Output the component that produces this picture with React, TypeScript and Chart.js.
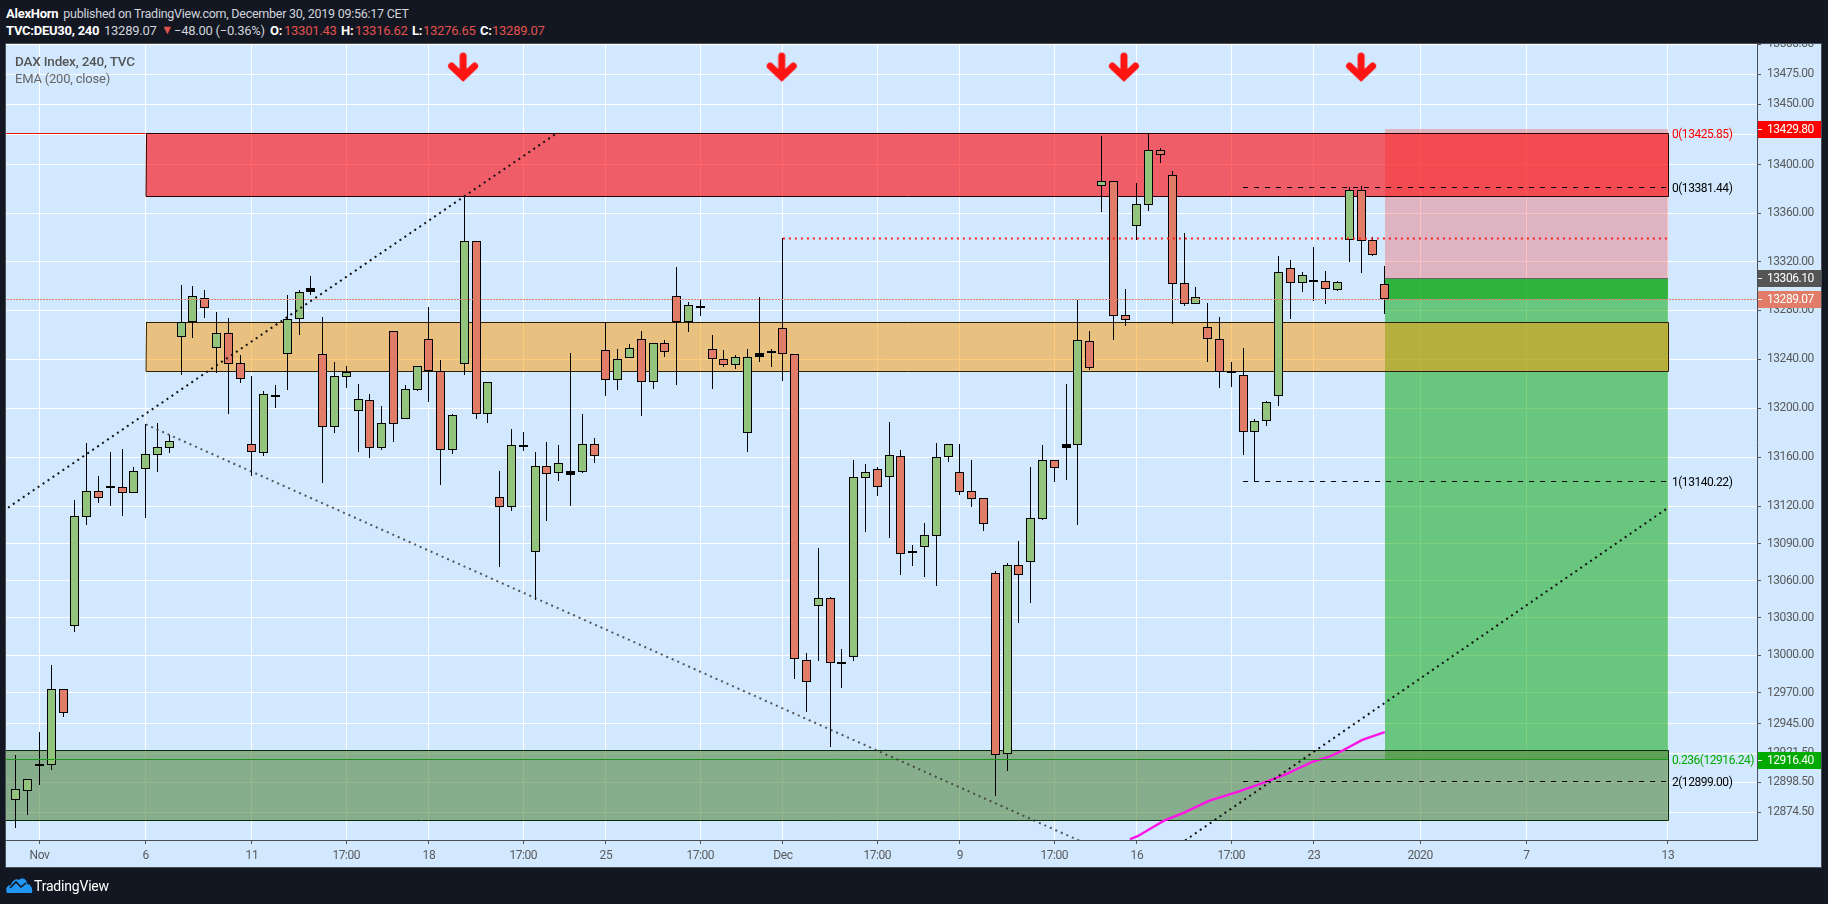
import React, { useEffect, useRef } from "react";
import Chart from "chart.js/auto";

const opens = [12884.5,12891.7,12912.2,12912.4,12972.7,13023.2,13111.7,13132.3,13136.8,13135.5,13131.2,13150.7,13162,13167.7,13258.4,13270.2,13290.3,13248.9,13261.2,13236.6,13170.4,13163.1,13210.6,13244,13272.6,13294.7,13244,13184.8,13225.6,13197.8,13206.3,13167.7,13262.9,13191.3,13215.1,13256.3,13230,13166,13235.8,13336.7,13194.9,13127.5,13119.4,13169.3,13082.8,13152.6,13146.9,13148.6,13148.3,13170.4,13247.3,13222.7,13240.7,13256.3,13221,13253,13291.4,13270.2,13283.6,13248.1,13239.9,13235,13179.4,13244.8,13246.6,13265.2,13244,12995.9,13039.8,13045.8,12994.2,12998.8,13143.4,13150.2,13144.2,13160.7,13084.2,13087.4,13096.3,13159.9,13147.7,13132.3,13126.7,13065.9,12921.2,13072.4,13075.3,13110.1,13157.5,13170.4,13170.1,13254.6,13382.5,13386.2,13275.9,13349.5,13366.8,13411.9,13391.2,13302.1,13285.4,13266.1,13256.3,13230,13226.8,13180.7,13189.6,13210,13314.5,13302.7,13304.5,13303.8,13296.9,13338,13378.8,13337.5,13301.43];
const highs = [12920.1,12900.8,12938.5,12992.2,12972.7,13125.3,13171.3,13144.7,13163.9,13166.6,13151.8,13186.7,13187.8,13178,13300.7,13299.9,13296.6,13278.3,13273.4,13243.4,13226.2,13213.9,13218.8,13292.5,13296.6,13308.1,13274.2,13237.7,13234.4,13219.6,13211.4,13201.6,13262.9,13219,13234.1,13282.7,13239.3,13195,13373.2,13336.7,13221,13148.5,13182.6,13180.5,13163.9,13172.3,13169.9,13245,13195,13175.3,13270.2,13248.1,13252.3,13262.9,13253,13255.5,13315.5,13286.8,13289.2,13259.8,13247.5,13243.4,13248.3,13290.9,13248.3,13339.1,13244,13001.8,13086.3,13046.8,13005,13157.7,13154.5,13152,13188.6,13165.8,13088.8,13106.6,13171.5,13170.4,13170.7,13157.7,13126.7,13067.5,13074,13092,13152,13169.9,13157.5,13219.6,13288.4,13262.8,13423.8,13386.2,13297.4,13384.8,13426,13413.8,13394.7,13343.6,13299.1,13285.9,13274.5,13237.7,13249.1,13191,13205.7,13324.6,13321.3,13311.4,13332,13312.2,13304,13381.4,13382,13340.2,13316.62];
const lows = [12862,12872.4,12896.2,12908.2,12950.7,13018.9,13105,13122.9,13120.4,13112.3,13131.2,13110.7,13148,13163.4,13227.2,13257.6,13273.9,13228.9,13195.3,13220.7,13144.7,13161.2,13200.2,13215.1,13260,13292.3,13139.3,13179.9,13216.3,13164.2,13159.6,13166,13172.3,13191.3,13214.3,13204.9,13137.5,13162.8,13227.2,13191.3,13187.8,13071.2,13116.6,13165.2,13044.4,13108.5,13140.9,13120.7,13147.4,13155.5,13210,13215.1,13240.7,13193.7,13215.8,13242,13218.8,13262.5,13275.3,13215.8,13233.8,13232.2,13164.4,13237.9,13233.8,13222.3,12981.2,12954.5,12995.4,12926.7,12973.3,12995.6,13099.3,13128.5,13094.4,13064.8,13071.8,13062.9,13055.7,13156,13129.4,13119.6,13100,12887,12907.6,13026.2,13042.2,13109,13140,13141.5,13105,13231.1,13361,13255.6,13267.1,13337.7,13361.6,13401.3,13269,13283.5,13285.4,13237.7,13216.5,13217.2,13161.7,13140.2,13185.3,13201.6,13272.9,13295,13287.6,13285.1,13295.8,13319.6,13310.6,13324.6,13276.65];
const closes = [12892.8,12900.8,12913.2,12972.7,12953.9,13112.1,13132.3,13127.2,13134.8,13131.2,13148.5,13162.3,13168,13172.9,13270.2,13291.4,13281.6,13261.2,13235.8,13223.5,13163.9,13211.2,13209,13272.6,13294.7,13297.9,13184.8,13225.9,13229.7,13207.1,13167.7,13187.5,13187.2,13215.5,13234.1,13230,13166,13194,13336.7,13194.9,13221,13119.4,13169.6,13170,13152.6,13146.6,13155,13145.8,13170.4,13160.7,13222.7,13240,13248.9,13221,13253,13245.6,13270.2,13284,13282.2,13239.9,13235,13241.5,13241.5,13242,13244.6,13244,12996.7,12978.8,13045.8,12994,12992.6,13143.8,13147.7,13136.1,13161.5,13081.7,13082,13096.6,13159.9,13170.4,13132,13126.3,13106,12920.4,13072.4,13064.8,13110.4,13157.5,13151,13167.6,13255.4,13232.9,13386.2,13275.6,13272.3,13367.2,13411.9,13407.7,13301.8,13285.4,13290.6,13256.3,13229.7,13229,13180.7,13189.2,13204.6,13311.2,13302.7,13308.7,13303.5,13297.7,13303,13378.8,13337.2,13325.6,13289.07];

const xTickIndex = [2, 11, 20, 28, 35, 43, 50, 58, 65, 73, 80, 88, 95, 103, 110, 119, 128, 140];
const xTickLabels = ["Nov", "6", "11", "17:00", "18", "17:00", "25", "17:00", "Dec", "17:00", "9", "17:00", "16", "17:00", "23", "2020", "7", "13"];
const yTicks = [13500, 13475, 13450, 13425, 13400, 13360, 13320, 13280, 13240, 13200, 13160, 13120, 13090, 13060, 13030, 13000, 12970, 12945, 12921.5, 12898.5, 12874.5];

const emaIndex = [94.4, 95.1, 96.2, 97.3, 99, 101.1, 103.6, 106, 107.7, 108.7, 110, 111.2, 112.4, 114.1, 116];
const emaValues = [12853, 12855.6, 12861.8, 12867.8, 12874.2, 12883.5, 12890.9, 12898.9, 12905, 12909.5, 12915.1, 12918.3, 12923.5, 12932.1, 12938.3];

const arrowIndex = [37.9, 64.9, 93.9, 114];
const arrowPrice = [13481, 13481, 13481, 13481];

const upTrend1 = [[-0.67, 13119], [45.83, 13426]];
const upTrend2 = [[99.08, 12852], [139.84, 13117.8]];
const downTrend = [[11, 13186.7], [90.09, 12852]];

const dashedLevels = [13381.44, 13140.22, 12899];
const resistanceDots = 13339;
const lastPrice = 13289.07;
const entryPrice = 13306.1;
const stopPrice = 13429.8;
const targetPrice = 12916.4;
const fibGreen = 12916.24;
const fibRed = 13425.85;

const redZone = [11, 140, 13425.85, 13374.4];
const orangeZone = [11, 140, 13270.2, 13230];
const greenZone = [-1, 140, 12924.3, 12868.1];
const positionRange = [116, 140];

const rightLabels = ["0(13425.85)", "0(13381.44)", "1(13140.22)", "0.236(12916.24)", "2(12899.00)"];
const rightLabelPrices = [13425.85, 13381.44, 13140.22, 12916.24, 12899];
const rightLabelColors = ["#ff0000", "#000000", "#000000", "#00aa00", "#000000"];

const tagPrices = [13429.8, 13306.1, 13289.07, 12916.4];
const tagLabels = ["13429.80", "13306.10", "13289.07", "12916.40"];
const tagColors = ["#ff0000", "#555555", "#e07c67", "#00aa00"];

const DARK = "#131722";
const PANEL = "#d1e8ff";
const FONT = "Roboto";

function makeArrow() {
  const c = document.createElement("canvas");
  c.width = 32;
  c.height = 30;
  const g = c.getContext("2d")!;
  g.strokeStyle = "#ff1414";
  g.lineWidth = 7;
  g.lineCap = "round";
  g.lineJoin = "miter";
  g.beginPath();
  g.moveTo(16, 4);
  g.lineTo(16, 22);
  g.moveTo(4.5, 14);
  g.lineTo(16, 25);
  g.lineTo(27.5, 14);
  g.stroke();
  return c;
}

const framePlugin = {
  id: "frame",
  beforeDraw(chart: any) {
    const { ctx } = chart;
    ctx.letterSpacing = "-0.45px";
    ctx.save();
    ctx.fillStyle = DARK;
    ctx.fillRect(0, 0, 1828, 904);
    ctx.fillStyle = PANEL;
    ctx.fillRect(6, 44, 1816, 823);
    ctx.strokeStyle = "#4a4e57";
    ctx.lineWidth = 1;
    ctx.strokeRect(5.5, 43.5, 1816, 824);
    ctx.restore();
  },
};

const zonesPlugin = {
  id: "zones",
  beforeDatasetsDraw(chart: any) {
    const { ctx, chartArea } = chart;
    const xs = chart.scales.x;
    const ys = chart.scales.y;
    chart.data.datasets.forEach((d: any, i: number) => {
      const meta = chart.getDatasetMeta(i);
      if (d.type === "bar" || !d.type) {
        meta.data.forEach((el: any) => {
          el.x = Math.floor(el.x) + 0.5;
          const a = Math.round(Math.min(el.y, el.base));
          let b = Math.round(Math.max(el.y, el.base));
          if (b - a < 2 && d.isBody) b = a + 2;
          el.y = a;
          el.base = b;
        });
      }
      if (d.snapY) {
        meta.data.forEach((p: any) => {
          p.y = Math.floor(p.y) + 0.5;
        });
      }
    });
    const box = (x1: number, x2: number, p1: number, p2: number, fill: string, stroke?: string) => {
      const l = Math.max(Math.round(xs.getPixelForValue(x1)), chartArea.left);
      const r = Math.round(xs.getPixelForValue(x2));
      const t = Math.round(ys.getPixelForValue(p1));
      const b = Math.round(ys.getPixelForValue(p2));
      ctx.fillStyle = fill;
      ctx.fillRect(l, t, r - l, b - t);
      if (stroke) {
        ctx.strokeStyle = stroke;
        ctx.lineWidth = 1;
        ctx.beginPath();
        ctx.moveTo(l, t + 0.5);
        ctx.lineTo(r + 0.5, t + 0.5);
        ctx.lineTo(r + 0.5, b + 0.5);
        ctx.lineTo(l, b + 0.5);
        if (x1 >= 0) ctx.lineTo(l + 0.5, t);
        ctx.stroke();
      }
    };
    ctx.save();
    box(positionRange[0], positionRange[1], stopPrice, entryPrice, "rgba(245,80,80,0.35)");
    box(positionRange[0], positionRange[1], entryPrice, targetPrice, "rgba(20,170,20,0.55)");
    box(positionRange[0], positionRange[1], entryPrice, lastPrice, "rgba(10,165,20,0.6)");
    ctx.fillStyle = "#666666";
    const ey = Math.round(ys.getPixelForValue(entryPrice));
    const lx = Math.round(xs.getPixelForValue(positionRange[0]));
    ctx.fillRect(lx, ey, Math.round(xs.getPixelForValue(positionRange[1])) - lx, 1);
    box(redZone[0], redZone[1], redZone[2], redZone[3], "rgba(255,20,23,0.65)", "#2a0000");
    box(orangeZone[0], orangeZone[1], orangeZone[2], orangeZone[3], "rgba(255,152,0,0.5)", "#2e2000");
    box(greenZone[0], greenZone[1], greenZone[2], greenZone[3], "rgba(85,135,63,0.6)", "#0c2a0c");
    ctx.restore();
  },
  afterDraw(chart: any) {
    const { ctx } = chart;
    const ys = chart.scales.y;
    const xs = chart.scales.x;
    ctx.save();
    ctx.textBaseline = "middle";
    ctx.font = `12px ${FONT}`;
    const lx = xs.getPixelForValue(140) + 4;
    rightLabels.forEach((t, i) => {
      ctx.fillStyle = rightLabelColors[i];
      ctx.fillText(t, lx, ys.getPixelForValue(rightLabelPrices[i]) + 1.5);
    });
    tagPrices.forEach((p, i) => {
      const y = Math.round(ys.getPixelForValue(p));
      ctx.fillStyle = tagColors[i];
      ctx.fillRect(1758, y - 8, 63, 17);
      ctx.fillStyle = "#ffffff";
      ctx.fillRect(1758, y, 4, 1);
      ctx.fillText(tagLabels[i], 1767, y + 1);
    });
    ctx.restore();
  },
};

const headerItems: [number, number, string, boolean, string, number, number][] = [
  [6, 13, "AlexHorn", true, "#ffffff", 13, -0.25],
  [63.3, 13, "published on TradingView.com, December 30, 2019 09:56:17 CET", false, "#d1d4dc", 12.5, -0.25],
  [6, 29.5, "TVC:DEU30, 240", true, "#ffffff", 13, -0.25],
  [104, 29.5, "13289.07", false, "#d1d4dc", 13, -0.25],
  [161, 29.5, "▼", false, "#e0524d", 12.5, 0],
  [174, 29.5, "−48.00 (−0.36%)", false, "#d1d4dc", 13, -0.25],
  [270, 29.5, "O:", true, "#ffffff", 13, -0.25],
  [284, 29.5, "13301.43", false, "#e0524d", 13, -0.25],
  [341, 29.5, "H:", true, "#ffffff", 13, -0.25],
  [355, 29.5, "13316.62", false, "#e0524d", 13, -0.25],
  [412, 29.5, "L:", true, "#ffffff", 13, -0.25],
  [423, 29.5, "13276.65", false, "#e0524d", 13, -0.25],
  [480, 29.5, "C:", true, "#ffffff", 13, -0.25],
  [492, 29.5, "13289.07", false, "#e0524d", 13, -0.25],
];

export default function App() {
  const ref = useRef<HTMLCanvasElement>(null);
  useEffect(() => {
    const idx = opens.map((_, i) => i);
    const isDoji = (i: number) => Math.abs(opens[i] - closes[i]) < 3.2;
    const bodyColor = (i: number) => (isDoji(i) ? "#000000" : closes[i] >= opens[i] ? "#93c47d" : "#e07c67");
    const pts = (a: number[][]) => a.map(([x, y]) => ({ x, y }));
    const hLine = (x1: number, x2: number, y: number) => [{ x: x1, y }, { x: x2, y }];
    const lineBase = { type: "line", pointRadius: 0, tension: 0, fill: false, order: 1 };
    const chart = new Chart(ref.current as HTMLCanvasElement, {
      type: "bar",
      data: {
        datasets: [
          { ...lineBase, data: pts(upTrend1), borderColor: "#111111", borderWidth: 2, borderDash: [2, 4] },
          { ...lineBase, data: pts(upTrend2), borderColor: "#111111", borderWidth: 2, borderDash: [2, 4] },
          { ...lineBase, data: pts(downTrend), borderColor: "rgba(50,50,50,0.8)", borderWidth: 2, borderDash: [2, 4] },
          ...dashedLevels.map((v) => ({ ...lineBase, snapY: true, data: hLine(104, 140, v), borderColor: "#000000", borderWidth: 1, borderDash: [5, 6] })),
          { ...lineBase, snapY: true, data: hLine(65, 140, resistanceDots), borderColor: "#ff2020", borderWidth: 2, borderDash: [2, 4] },
          { ...lineBase, snapY: true, data: hLine(-1, 148, lastPrice), borderColor: "#e07c67", borderWidth: 1, borderDash: [2, 1] },
          { ...lineBase, snapY: true, data: hLine(-1, 140, fibGreen), borderColor: "#1e961e", borderWidth: 1 },
          { ...lineBase, snapY: true, data: hLine(-1, 11, fibRed), borderColor: "#ee1111", borderWidth: 1 },
          { ...lineBase, data: emaIndex.map((x, i) => ({ x, y: emaValues[i] })), borderColor: "#ff14e6", borderWidth: 2.4 },
          {
            ...lineBase,
            showLine: false,
            pointRadius: 15,
            pointStyle: makeArrow(),
            data: arrowIndex.map((x, i) => ({ x, y: arrowPrice[i] })),
          },
          {
            type: "bar",
            isBody: true,
            order: 2,
            grouped: false,
            barThickness: 9,
            inflateAmount: 0,
            borderWidth: 1,
            borderColor: "#000000",
            borderSkipped: false,
            backgroundColor: idx.map(bodyColor),
            data: idx.map((i) => ({ x: i, y: [opens[i], closes[i]] })),
          },
          {
            type: "bar",
            order: 3,
            grouped: false,
            barThickness: 1,
            inflateAmount: 0,
            borderWidth: 0,
            backgroundColor: "#000000",
            data: idx.map((i) => ({ x: i, y: [lows[i], highs[i]] })),
          },
        ] as any,
      },
      plugins: [framePlugin, zonesPlugin],
      options: {
        responsive: false,
        animation: false,
        events: [],
        layout: { autoPadding: false, padding: { left: 6, right: 7, top: 44, bottom: 37 } },
        plugins: { legend: { display: false }, tooltip: { enabled: false }, title: { display: false } },
        scales: {
          x: {
            type: "linear",
            offset: false,
            min: -0.839,
            max: 147.55,
            afterBuildTicks: (s: any) => {
              s.ticks = xTickIndex.map((value) => ({ value }));
            },
            afterFit: (s: any) => {
              s.height = 27;
              s.paddingLeft = 0;
              s.paddingRight = 0;
            },
            grid: { offset: false, color: "#ffffff", lineWidth: 1, tickLength: 4, tickColor: "#555555" },
            border: { color: "#4a4e57", width: 1 },
            ticks: {
              autoSkip: false,
              maxRotation: 0,
              minRotation: 0,
              padding: 5,
              color: "#5a5a5a",
              font: { family: FONT, size: 12 },
              callback: (_v: any, i: number) => xTickLabels[i],
            },
          },
          y: {
            type: "logarithmic",
            position: "right",
            bounds: "data",
            min: 12852.4,
            max: 13500.25,
            afterBuildTicks: (s: any) => {
              s.ticks = yTicks.map((value) => ({ value }));
            },
            afterFit: (s: any) => {
              s.width = 64;
              s.paddingTop = 0;
              s.paddingBottom = 0;
            },
            grid: { color: "#ffffff", lineWidth: 1, tickLength: 4, tickColor: "#555555" },
            border: { color: "#4a4e57", width: 1 },
            ticks: {
              autoSkip: false,
              padding: 6,
              color: "#5a5a5a",
              font: { family: FONT, size: 12 },
              callback: (v: any) => Number(v).toFixed(2),
            },
          },
        },
      } as any,
    });
    return () => chart.destroy();
  }, []);

  const abs = (x: number, y: number, ls = 0): React.CSSProperties => ({
    position: "absolute",
    left: x,
    top: y,
    transform: "translateY(-50%)",
    whiteSpace: "nowrap",
    fontFamily: FONT,
    letterSpacing: ls,
  });

  return (
    <div style={{ position: "fixed", left: 0, top: 0, width: 1828, height: 904, background: DARK, overflow: "hidden" }}>
      <canvas ref={ref} width={1828} height={904} style={{ position: "absolute", left: 0, top: 0, width: 1828, height: 904 }} />
      <div style={{ position: "absolute", left: 0, top: 0, width: 1828, height: 43, background: DARK }}>
        {headerItems.map(([x, y, t, b, c, s, ls], i) => (
          <span key={i} style={{ ...abs(x, y, ls), fontSize: s, fontWeight: b ? 700 : 400, color: c }}>
            {t}
          </span>
        ))}
      </div>
      <span style={{ ...abs(15, 60.5, -0.2), fontSize: 13.5, fontWeight: 500, color: "#555555" }}>DAX Index, 240, TVC</span>
      <span style={{ ...abs(15, 78, -0.2), fontSize: 13, color: "#666666" }}>EMA (200, close)</span>
      <svg style={{ position: "absolute", left: 6, top: 877 }} width="27" height="17" viewBox="0 0 27 17">
        <path d="M1 16 C-1 12 1 8 5 8 C6 4 10 1 13 3 C16 0 21 2 21 7 C25 7 27 12 26 16 Z" fill="#2196f3" />
        <path d="M4 11 L10 5 L15 10 L20 6" fill="none" stroke="#131722" strokeWidth="1.6" />
      </svg>
      <span style={{ ...abs(34, 885.5, -0.2), fontSize: 14, color: "#ffffff" }}>TradingView</span>
    </div>
  );
}
